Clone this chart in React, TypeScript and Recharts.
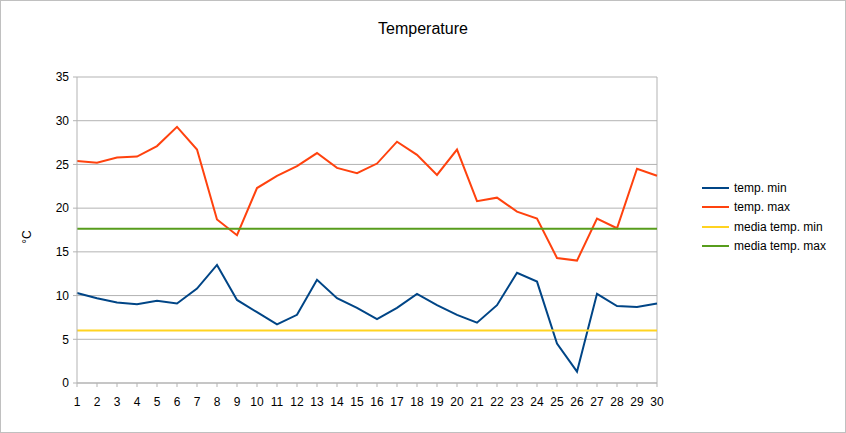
import {
  LineChart,
  Line,
  XAxis,
  YAxis,
  CartesianGrid,
  Legend,
  ReferenceLine,
} from 'recharts'

const days = Array.from({ length: 30 }, (_, i) => i + 1)

const tempMin = [
  10.3, 9.7, 9.2, 9.0, 9.4, 9.1, 10.8, 13.5, 9.5, 8.1,
  6.7, 7.8, 11.8, 9.7, 8.6, 7.3, 8.6, 10.2, 8.9, 7.8,
  6.9, 8.9, 12.6, 11.6, 4.5, 1.3, 10.2, 8.8, 8.7, 9.1,
]

const tempMax = [
  25.4, 25.2, 25.8, 25.9, 27.1, 29.3, 26.7, 18.7, 16.9, 22.3,
  23.7, 24.8, 26.3, 24.6, 24.0, 25.1, 27.6, 26.1, 23.8, 26.7,
  20.8, 21.2, 19.6, 18.8, 14.3, 14.0, 18.8, 17.7, 24.5, 23.7,
]

const mediaMin = 6.0
const mediaMax = 17.65

const yTicks = [0, 5, 10, 15, 20, 25, 30, 35]

const series = [
  { key: 'min', name: 'temp. min', color: '#004586' },
  { key: 'max', name: 'temp. max', color: '#ff420e' },
  { key: 'mMin', name: 'media temp. min', color: '#ffd320' },
  { key: 'mMax', name: 'media temp. max', color: '#579d1c' },
]

const data = days.map((d, i) => ({
  day: d,
  min: tempMin[i],
  max: tempMax[i],
  mMin: mediaMin,
  mMax: mediaMax,
}))

const FONT = '"Liberation Sans", Arial, sans-serif'
const GRID = '#b3b3b3'

function LegendBox() {
  return (
    <div style={{ fontFamily: FONT, fontSize: 12, color: '#000' }}>
      {series.map((s) => (
        <div key={s.key} style={{ display: 'flex', alignItems: 'center', height: 19.5 }}>
          <span style={{ width: 27, height: 2, background: s.color, marginRight: 5 }} />
          <span>{s.name}</span>
        </div>
      ))}
    </div>
  )
}

export default function App() {
  return (
    <div style={{ position: 'fixed', left: 0, top: 0, width: 846, height: 433, background: '#fff' }}>
      <div
        style={{
          position: 'absolute',
          top: 20,
          left: 0,
          width: 846,
          textAlign: 'center',
          fontFamily: FONT,
          fontSize: 16,
        }}
      >
        Temperature
      </div>
      <LineChart
        width={846}
        height={433}
        data={data}
        margin={{ top: 77, right: 189, bottom: 20, left: 37 }}
      >
        <CartesianGrid vertical={false} stroke={GRID} />
        <XAxis
          dataKey="day"
          stroke={GRID}
          tickSize={4}
          tickMargin={10}
          interval={0}
          tick={{ fill: '#000', fontSize: 12, fontFamily: FONT }}
        />
        <YAxis
          domain={[0, 35]}
          ticks={yTicks}
          width={40}
          stroke={GRID}
          tickSize={4}
          tickMargin={4}
          tick={{ fill: '#000', fontSize: 12, fontFamily: FONT }}
        />
        <ReferenceLine x={30} stroke={GRID} />
        {series.map((s) => (
          <Line
            key={s.key}
            dataKey={s.key}
            name={s.name}
            stroke={s.color}
            strokeWidth={2}
            dot={false}
            activeDot={false}
            isAnimationActive={false}
          />
        ))}
        <Legend
          layout="horizontal"
          verticalAlign="middle"
          content={() => <LegendBox />}
          wrapperStyle={{ position: 'absolute', left: 702, top: 178, width: 140 }}
        />
        <text
          x={31}
          y={237}
          transform="rotate(-90 31 237)"
          textAnchor="middle"
          fontFamily={FONT}
          fontSize={12}
          fill="#000"
        >
          °C
        </text>
      </LineChart>
      <div
        style={{
          position: 'absolute',
          inset: 0,
          border: '1px solid #c0c0c0',
          pointerEvents: 'none',
        }}
      />
    </div>
  )
}
